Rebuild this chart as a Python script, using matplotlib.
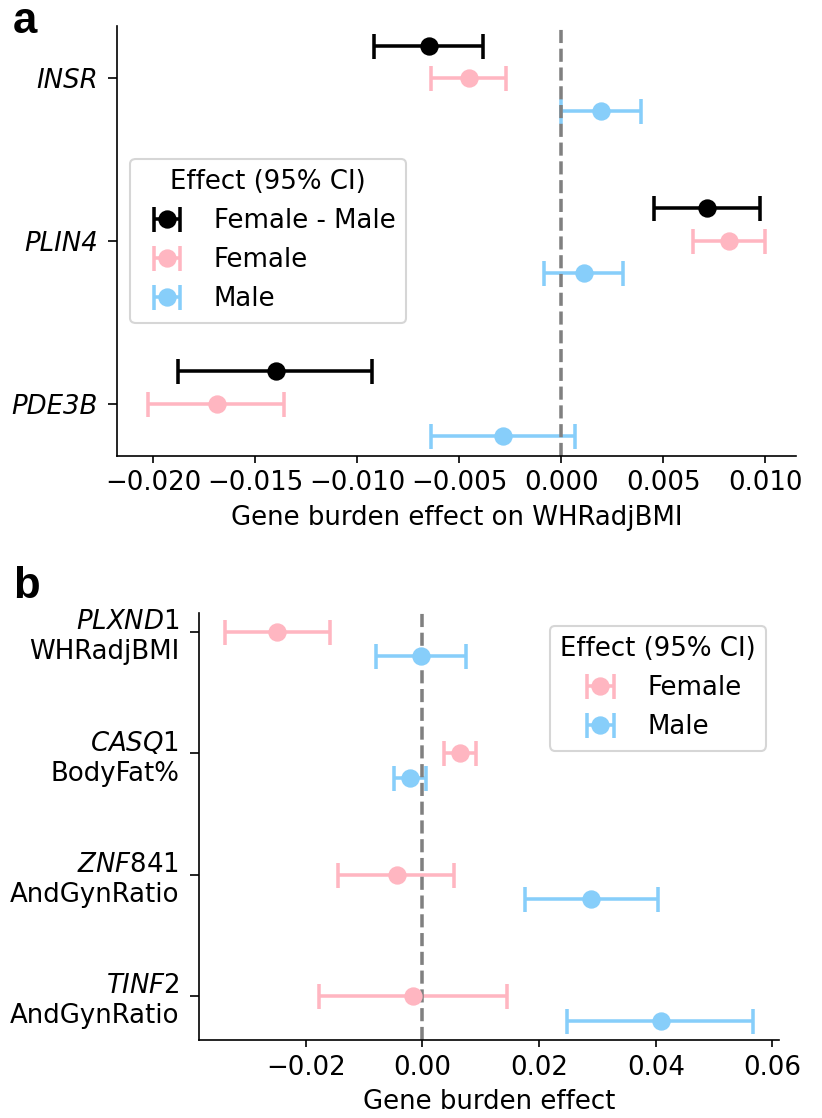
import matplotlib
matplotlib.use("Agg")
import matplotlib.pyplot as plt
import numpy as np

plt.rcParams["font.size"] = 12.5
plt.rcParams["font.family"] = "DejaVu Sans"
plt.rcParams["ytick.major.size"] = 4.4
plt.rcParams["ytick.major.pad"] = 5.0

PINK = "lightpink"
BLUE = "lightskyblue"

# ---- panel a: sex-stratified burden effects on WHRadjBMI ----
genes_a = ["INSR", "PLIN4", "PDE3B"]

diff_est = [-0.00648, 0.00713, -0.01400]
diff_lo = [-0.00918, 0.00452, -0.01878]
diff_hi = [-0.00385, 0.00975, -0.00925]

fem_a_est = [-0.00453, 0.00823, -0.01685]
fem_a_lo = [-0.00640, 0.00643, -0.02024]
fem_a_hi = [-0.00271, 0.00999, -0.01359]

male_a_est = [0.00197, 0.00109, -0.00285]
male_a_lo = [0.00001, -0.00084, -0.00636]
male_a_hi = [0.00393, 0.00300, 0.00065]

# ---- panel b: gene / trait pairs ----
genes_b = ["PLXND", "CASQ", "ZNF", "TINF"]
gene_suffix_b = ["1", "1", "841", "2"]
traits_b = ["WHRadjBMI", "BodyFat%", "AndGynRatio", "AndGynRatio"]

fem_b_est = [-0.02493, 0.00640, -0.00434, -0.00160]
fem_b_lo = [-0.03379, 0.00366, -0.01441, -0.01772]
fem_b_hi = [-0.01578, 0.00926, 0.00549, 0.01452]

male_b_est = [-0.00017, -0.00206, 0.02893, 0.04082]
male_b_lo = [-0.00789, -0.00492, 0.01755, 0.02481]
male_b_hi = [0.00743, 0.00069, 0.04031, 0.05666]


def draw_ci(ax, est, lo, hi, ypos, color, label):
    est = np.asarray(est)
    xerr = [est - np.asarray(lo), np.asarray(hi) - est]
    return ax.errorbar(est, ypos, xerr=xerr, fmt="o", color=color, ms=7.8,
                       elinewidth=1.7, capsize=6, capthick=1.7, label=label)


def style_axes(ax):
    for side in ("top", "right"):
        ax.spines[side].set_visible(False)


fig = plt.figure(figsize=(822 / 150, 1118 / 150), dpi=150)

# panel a
ax_a = fig.add_axes([0.1427, 0.5924, 0.8257, 0.3843])
ya = np.arange(len(genes_a))
draw_ci(ax_a, diff_est, diff_lo, diff_hi, ya - 0.2, "black", "Female - Male")
draw_ci(ax_a, fem_a_est, fem_a_lo, fem_a_hi, ya, PINK, "Female")
draw_ci(ax_a, male_a_est, male_a_lo, male_a_hi, ya + 0.2, BLUE, "Male")
ax_a.axvline(0, color="gray", linestyle="--", lw=1.7)
ax_a.set_yticks(ya)
ax_a.set_yticklabels(genes_a, fontstyle="italic")
ax_a.invert_yaxis()
ax_a.set_xlabel("Gene burden effect on WHRadjBMI")
ax_a.legend(title="Effect (95% CI)", loc="center left")
style_axes(ax_a)

# panel b
ax_b = fig.add_axes([0.2421, 0.0698, 0.7060, 0.3822])
yb = np.arange(len(genes_b))
draw_ci(ax_b, fem_b_est, fem_b_lo, fem_b_hi, yb, PINK, "Female")
draw_ci(ax_b, male_b_est, male_b_lo, male_b_hi, yb + 0.2, BLUE, "Male")
ax_b.axvline(0, color="gray", linestyle="--", lw=1.7)
ax_b.set_yticks(yb)
ax_b.set_yticklabels([rf"$\it{{{g}}}$" + f"{s}\n{t}"
                      for g, s, t in zip(genes_b, gene_suffix_b, traits_b)])
ax_b.invert_yaxis()
ax_b.set_xlabel("Gene burden effect")
ax_b.legend(title="Effect (95% CI)", loc="upper right")
style_axes(ax_b)

fig.text(0.0158, 0.9705, "a", fontsize=21, fontweight="bold",
         family="Liberation Sans", va="baseline")
fig.text(0.0158, 0.4651, "b", fontsize=21, fontweight="bold",
         family="Liberation Sans", va="baseline")

fig.savefig("out.png", dpi=150, facecolor="white")
